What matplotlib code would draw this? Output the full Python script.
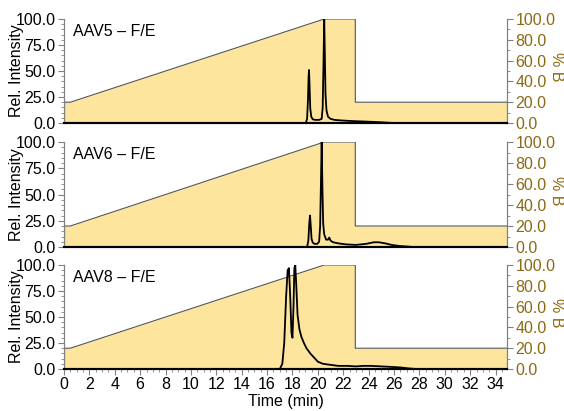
import matplotlib.pyplot as plt
from matplotlib.ticker import MultipleLocator, FormatStrFormatter

plt.rcParams['font.family'] = ['Liberation Sans', 'DejaVu Sans']
plt.rcParams['font.size'] = 11

# gradient program (% B), same for every run
grad_t = [0, 0.5, 20.5, 22.95, 22.95, 34.9]
grad_b = [20, 20, 100, 100, 20, 20]

# chromatogram traces
aav5_t = [0, 19.05, 19.15, 19.22, 19.27, 19.3, 19.34, 19.4, 19.48, 19.6, 19.8, 20.1, 20.3,
          20.38, 20.44, 20.5, 20.55, 20.6, 20.68, 20.8, 21.0, 21.3, 21.8, 22.5, 23.5, 24.5, 25.3, 25.9]
aav5_i = [0, 0, 4, 22, 45, 51, 38, 14, 6, 3.5, 3, 3, 4,
          15, 55, 100, 65, 28, 12, 6, 4, 3, 2.5, 2, 1.5, 1, 0.5, 0]

aav6_t = [0, 19.15, 19.25, 19.32, 19.38, 19.44, 19.5, 19.6, 19.75, 19.95, 20.1, 20.18, 20.24, 20.3,
          20.36, 20.42, 20.5, 20.65, 20.8, 20.9, 21.0, 21.2, 21.6, 22.2, 23.0, 23.8, 24.4, 24.8,
          25.3, 25.8, 26.4, 27.0, 27.5]
aav6_i = [0, 0, 6, 22, 30, 20, 8, 4, 3, 3, 5, 20, 60, 100,
          55, 22, 12, 7, 7, 9, 6, 4.5, 3.5, 2.5, 2, 3, 4.5, 4.5,
          3.5, 2, 1, 0.5, 0]

aav8_t = [0, 17.0, 17.2, 17.35, 17.5, 17.62, 17.72, 17.82, 17.92, 18.0, 18.08, 18.15, 18.22,
          18.3, 18.4, 18.55, 18.7, 18.9, 19.1, 19.4, 19.7, 20.0, 20.4, 21.0, 21.6, 22.3,
          23.0, 23.6, 24.2, 25.0, 25.8, 26.5, 27.2, 27.8]
aav8_i = [0, 0, 5, 25, 70, 95, 97, 70, 35, 30, 60, 97, 100,
          80, 52, 38, 31, 25, 20, 15, 11, 7, 5, 4, 3, 3,
          2.5, 3, 3, 2.5, 2, 1.5, 0.5, 0]

panels = [
    ("AAV5 \u2013 F/E", aav5_t, aav5_i),
    ("AAV6 \u2013 F/E", aav6_t, aav6_i),
    ("AAV8 \u2013 F/E", aav8_t, aav8_i),
]

fill_col = '#FDE59E'
brown = '#8B6914'
grey = '#808080'

fig = plt.figure(figsize=(5.64, 4.11), dpi=100)
W, H = 564, 411
left, right = 64, 507
rows = [(19, 123), (142, 247), (265, 369)]

for k, (name, t, inten) in enumerate(panels):
    top, bot = rows[k]
    ax = fig.add_axes([left / W, 1 - bot / H, (right - left) / W, (bot - top) / H])
    ax2 = ax.twinx()

    # gradient on the right axis, drawn behind the trace
    ax2.fill_between(grad_t, grad_b, 0, color=fill_col, lw=0)
    ax2.plot(grad_t, grad_b, color='#555555', lw=0.8)
    ax2.plot([0, 0], [0, 20], color='#555555', lw=0.8)
    ax2.set_ylim(0, 100)
    ax2.yaxis.set_major_locator(MultipleLocator(20))
    ax2.yaxis.set_minor_locator(MultipleLocator(10))
    ax2.yaxis.set_major_formatter(FormatStrFormatter('%.1f'))
    ax2.tick_params(axis='y', colors=grey, labelcolor=brown, labelsize=11.5, length=4, pad=2)
    ax2.tick_params(axis='y', which='minor', colors=grey, length=2)

    ax.set_zorder(ax2.get_zorder() + 1)
    ax.patch.set_visible(False)
    ax.plot(t, inten, color='black', lw=1.3)
    ax.set_xlim(0, 34.9)
    ax.set_ylim(0, 100)
    ax.yaxis.set_major_locator(MultipleLocator(25))
    ax.yaxis.set_minor_locator(MultipleLocator(5))
    ax.yaxis.set_major_formatter(FormatStrFormatter('%.1f'))
    ax.tick_params(axis='y', colors=grey, labelcolor='black', labelsize=11.5, length=4, pad=2)
    ax.tick_params(axis='y', which='minor', colors=grey, length=2)
    ax.text(0.02, 0.88, name, transform=ax.transAxes, fontsize=11.5, va='center', ha='left')

    ymid = 1 - (top + bot) / 2 / H
    fig.text(17 / W, ymid, 'Rel. Intensity', rotation=90, ha='center', va='center', fontsize=11.5)
    fig.text(556 / W, ymid + 0.01, '% B', rotation=270, ha='center', va='center',
             fontsize=11.5, color=brown)

    for a in (ax, ax2):
        a.spines['top'].set_visible(False)
        a.spines['left'].set_color(grey)
        a.spines['right'].set_color(grey)
        a.spines['bottom'].set_color('black')
        a.spines['bottom'].set_linewidth(1.5)

    if k == 2:
        ax.xaxis.set_major_locator(MultipleLocator(2))
        ax.xaxis.set_minor_locator(MultipleLocator(0.5))
        ax.tick_params(axis='x', colors=grey, labelcolor='black', labelsize=11.5, length=4, pad=2)
        ax.tick_params(axis='x', which='minor', colors=grey, length=2)
        ax.set_xlabel('Time (min)', fontsize=11.5, labelpad=1)
    else:
        ax.tick_params(axis='x', which='both', bottom=False, labelbottom=False)

fig.savefig('out.png', dpi=100)
